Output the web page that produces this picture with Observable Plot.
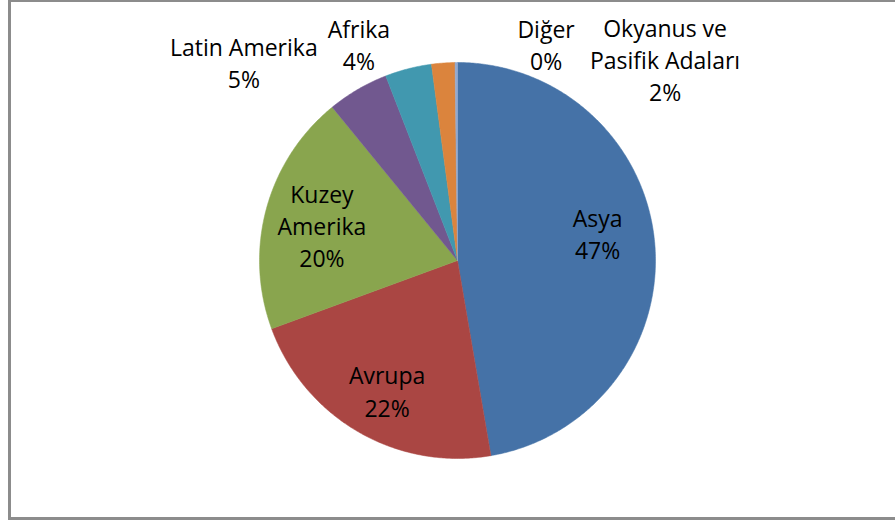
<!DOCTYPE html>
<html>
<head>
<meta charset="utf-8">
<script src="https://cdn.jsdelivr.net/npm/d3@7"></script>
<script src="https://cdn.jsdelivr.net/npm/@observablehq/plot@0.6"></script>
<style>
  html, body { margin: 0; padding: 0; background: #fff; overflow: hidden; }
  #wrap { position: relative; width: 895px; height: 520px; overflow: hidden; }
  #frame { position: absolute; left: 8px; top: -1px; width: 900px; height: 515px;
           border: 3px solid #8c8c8c; border-right: none; box-sizing: content-box; }
  #chart { position: absolute; left: 0; top: 0; }
</style>
</head>
<body>
<div id="wrap"><div id="frame"></div><div id="chart"></div></div>
<script>
// Data (percent shares, clockwise from 12 o'clock)
const categories = ["Asya", "Avrupa", "Kuzey Amerika", "Latin Amerika", "Afrika", "Okyanus ve Pasifik Adaları", "Diğer"];
const values = [47.3, 22.1, 19.7, 5.0, 3.8, 1.9, 0.2];
const colors = ["#4572A7", "#AA4643", "#89A54E", "#71588F", "#4198AF", "#DB843D", "#93A9CF"];
const insideLabels = ["Asya", "Avrupa", "Kuzey Amerika"];

// Layout / style options (not data): label nudges in pixels
const labelNudge = {
  "Asya": [0, -16],
  "Avrupa": [0, 8],
  "Kuzey Amerika": [0, 1],
  "Latin Amerika": [-99, -2],
  "Afrika": [-42, 3.5],
  "Okyanus ve Pasifik Adaları": [224, 25.5],
  "Diğer": [90, 11]
};
const font = "'Open Sans', sans-serif";
const fontSize = 23;
const lineHeight = 1.4;

const total = d3.sum(values);
let cum = 0;
const slices = categories.map((name, i) => {
  const a0 = cum / total * 2 * Math.PI;
  cum += values[i];
  const a1 = cum / total * 2 * Math.PI;
  return {name, value: values[i], a0, a1, mid: (a0 + a1) / 2,
          label: name + "\n" + Math.round(values[i]) + "%"};
});

// polygon points for each slice (unit circle, angle clockwise from top)
const pts = [];
for (const s of slices) {
  pts.push({name: s.name, x: 0, y: 0});
  const n = Math.max(2, Math.ceil((s.a1 - s.a0) / (Math.PI / 360)));
  for (let k = 0; k <= n; k++) {
    const a = s.a0 + (s.a1 - s.a0) * k / n;
    pts.push({name: s.name, x: Math.sin(a), y: Math.cos(a)});
  }
  pts.push({name: s.name, x: 0, y: 0});
}

const marks = [
  Plot.line(pts, {x: "x", y: "y", z: "name", fill: "name", stroke: "name", strokeWidth: 0.5, curve: "linear"})
];
for (const s of slices) {
  const isIn = insideLabels.includes(s.name);
  const r = isIn ? 0.71 : 1.15;
  const [dx, dy] = labelNudge[s.name] || [0, 0];
  marks.push(Plot.text([s], {
    x: d => r * Math.sin(d.mid), y: d => r * Math.cos(d.mid),
    text: "label", lineWidth: isIn ? 5 : 8, lineHeight, dx, dy,
    fontSize, fontFamily: font, fill: "black"
  }));
}

const chart = Plot.plot({
  width: 895, height: 520,
  marginTop: 0, marginRight: 0, marginBottom: 0, marginLeft: 0,
  x: {domain: [-1, 1], range: [259, 655], axis: null},
  y: {domain: [-1, 1], range: [458, 62], axis: null},
  color: {domain: categories, range: colors},
  style: {background: "transparent", overflow: "visible"},
  marks
});
document.getElementById("chart").appendChild(chart);
</script>
</body>
</html>
